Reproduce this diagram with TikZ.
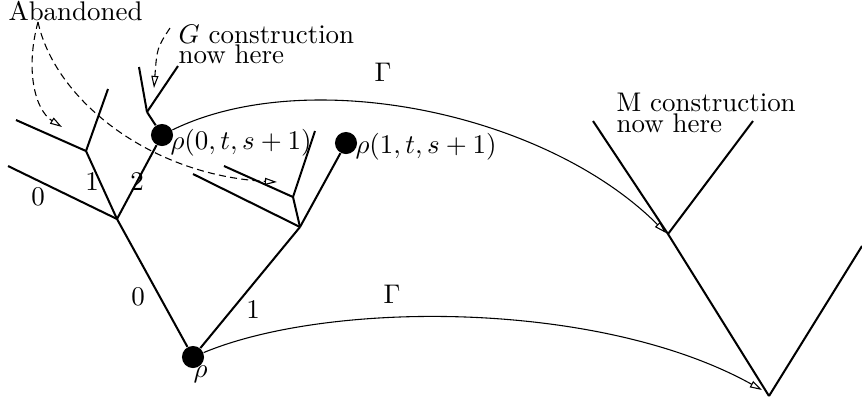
\documentclass[tikz,border=0pt]{standalone}
\usetikzlibrary{arrows.meta}
\begin{document}
\begin{tikzpicture}[x=0.371pt,y=-0.371pt,
  branch/.style={line width=0.75pt},
  dot/.style={circle,fill=black,inner sep=0pt,minimum size=8.2pt},
  gmap/.style={line width=0.4pt,-{Triangle[open,length=4.5pt,width=2.6pt]}},
  note/.style={line width=0.4pt,dash pattern=on 2.6pt off 1.6pt,-{Triangle[open,length=4.5pt,width=2.6pt]}},
  lab/.style={inner sep=0pt},
  txt/.style={inner sep=0pt,anchor=base west}]
\useasboundingbox (0,0) rectangle (862,403);

% left tree
\node[dot] (R) at (193,357) {};
\coordinate (A) at (117,219);
\coordinate (B) at (300,227);
\coordinate (L0) at (8,166);
\coordinate (C) at (86,151);
\coordinate (C1) at (16,120);
\coordinate (C2) at (108,89);
\node[dot] (P0) at (162,135) {};
\coordinate (H) at (147,112);
\coordinate (H1) at (139,67);
\coordinate (H2) at (178,66);
\node[dot] (P1) at (346,143) {};
\coordinate (B1) at (193,174);
\coordinate (D) at (293,197);
\coordinate (D1) at (224,166);
\coordinate (D2) at (315,131);

\draw[branch] (R) -- (A);
\draw[branch] (R) -- (B);
\draw[branch] (A) -- (L0);
\draw[branch] (A) -- (C);
\draw[branch] (A) -- (P0);
\draw[branch] (C) -- (C1);
\draw[branch] (C) -- (C2);
\draw[branch] (P0) -- (H);
\draw[branch] (H) -- (H1);
\draw[branch] (H) -- (H2);
\draw[branch] (B) -- (P1);
\draw[branch] (B) -- (B1);
\draw[branch] (B) -- (D);
\draw[branch] (D) -- (D1);
\draw[branch] (D) -- (D2);

% right tree
\coordinate (E) at (668,234);
\coordinate (F) at (769,396);
\coordinate (E1) at (593,121);
\coordinate (E2) at (753,121);
\coordinate (F1) at (862,246);
\draw[branch] (E1) -- (E) -- (F);
\draw[branch] (E) -- (E2);
\draw[branch] (F) -- (F1);

% edge labels
\node[lab] at (38,197) {0};
\node[lab] at (92,182) {1};
\node[lab] at (137,182) {2};
\node[lab] at (138,297) {0};
\node[lab] at (253,310) {1};

% vertex labels
\node[txt] (r0) at (170,149) {$\rho(0,t,s+1)$};
\node[txt] (r1) at (355,153) {$\rho(1,t,s+1)$};
\node[txt] (r) at (193,377) {$\rho$};

% Gamma maps
\coordinate (Et) at (666,233);
\coordinate (Ft) at (762,390);
\draw[gmap] (P0) .. controls (307,64) and (545,112) .. (Et);
\draw[gmap] (R) .. controls (330,300) and (600,300) .. (Ft);
\node[lab] at (383,72) {$\Gamma$};
\node[lab] at (392,294) {$\Gamma$};

% notes
\node[txt] (ab) at (8,20) {Abandoned};
\node[txt] (g1) at (178,43) {$G$ construction};
\node[txt] (g2) at (178,63) {now here};
\node[txt] (m1) at (616,111) {M construction};
\node[txt] (m2) at (616,132) {now here};

\coordinate (abs) at (38,22);
\coordinate (abt1) at (62,127);
\coordinate (abt2) at (277,182);
\coordinate (gs) at (170,28);
\coordinate (gt) at (154,88);
\draw[note] (abs) .. controls (25,70) and (35,110) .. (abt1);
\draw[note] (abs) .. controls (55,100) and (150,175) .. (abt2);
\draw[note] (gs) .. controls (157,48) .. (gt);
\end{tikzpicture}
\end{document}
